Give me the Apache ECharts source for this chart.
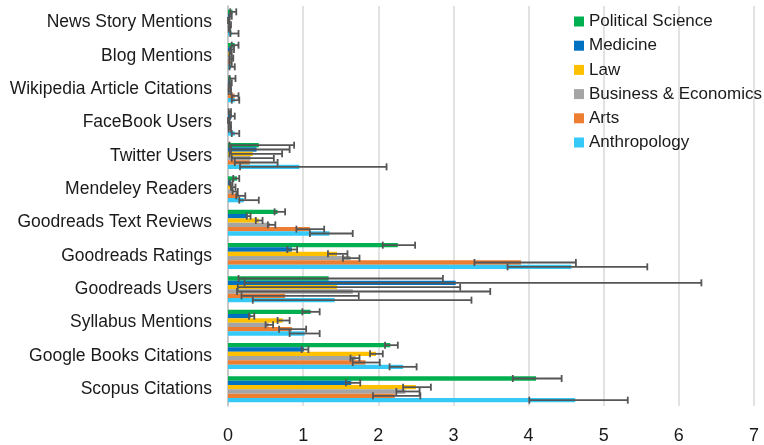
<!DOCTYPE html>
<html><head><meta charset="utf-8">
<script src="https://cdn.jsdelivr.net/npm/echarts@6/dist/echarts.min.js"></script>
<style>html,body{margin:0;padding:0;background:#fff}#c{width:764px;height:445px}</style>
</head><body><div id="c"></div>
<script>
var categories = ['News Story Mentions','Blog Mentions','Wikipedia Article Citations','FaceBook Users','Twitter Users','Mendeley Readers','Goodreads Text Reviews','Goodreads Ratings','Goodreads Users','Syllabus Mentions','Google Books Citations','Scopus Citations'];
var seriesNames = ['Political Science','Medicine','Law','Business & Economics','Arts','Anthropology'];
var xTicks = [0,1,2,3,4,5,6,7];

var polSci     = [0.06,0.09,0.04,0.02,0.41,0.12,0.66,2.26,1.34,1.10,2.16,4.10];
var polSciLow  = [0.03,0.05,0.02,0.01,0.02,0.07,0.62,2.06,0.14,0.99,2.09,3.79];
var polSciHigh = [0.11,0.14,0.10,0.04,0.88,0.15,0.76,2.49,2.86,1.22,2.26,4.44];

var medicine     = [0.03,0.05,0.03,0.05,0.38,0.04,0.26,0.85,3.03,0.30,1.01,1.64];
var medicineLow  = [0.02,0.03,0.02,0.03,0.04,0.02,0.25,0.79,0.22,0.28,0.98,1.57];
var medicineHigh = [0.05,0.08,0.05,0.09,0.82,0.06,0.30,0.92,6.30,0.35,1.07,1.76];

var law     = [0.01,0.03,0.02,0.01,0.33,0.05,0.41,1.45,1.45,0.73,1.97,2.50];
var lawLow  = [0.00,0.02,0.01,0.00,0.02,0.04,0.37,1.33,0.13,0.66,1.89,2.33];
var lawHigh = [0.02,0.05,0.04,0.02,0.72,0.10,0.46,1.59,3.09,0.82,2.06,2.70];

var business     = [0.02,0.04,0.02,0.02,0.30,0.08,0.56,1.63,1.66,0.54,1.70,2.36];
var businessLow  = [0.01,0.02,0.01,0.01,0.05,0.06,0.53,1.53,0.12,0.50,1.63,2.24];
var businessHigh = [0.04,0.07,0.04,0.04,0.61,0.13,0.63,1.75,3.49,0.60,1.75,2.55];

var arts     = [0.02,0.03,0.09,0.02,0.29,0.14,1.09,3.90,0.76,0.85,1.83,2.22];
var artsLow  = [0.01,0.02,0.05,0.01,0.09,0.11,0.91,3.28,0.18,0.68,1.66,1.93];
var artsHigh = [0.03,0.05,0.14,0.04,0.66,0.23,1.28,4.63,1.74,1.04,2.02,2.56];

var anthro     = [0.05,0.04,0.09,0.09,0.95,0.21,1.35,4.57,1.42,1.02,2.33,4.62];
var anthroLow  = [0.03,0.02,0.05,0.05,0.16,0.15,1.09,3.72,0.33,0.82,2.15,4.01];
var anthroHigh = [0.14,0.09,0.15,0.15,2.11,0.41,1.66,5.58,3.24,1.22,2.51,5.32];

var colors = ['#00b050','#0070c0','#ffc000','#a5a5a5','#ed7d31','#35c9f7'];
var values = [polSci, medicine, law, business, arts, anthro];
var lows = [polSciLow, medicineLow, lawLow, businessLow, artsLow, anthroLow];
var highs = [polSciHigh, medicineHigh, lawHigh, businessHigh, artsHigh, anthroHigh];

var GAP = 0.22;
var N = seriesNames.length;
var FONT = '"Liberation Sans", Arial, sans-serif';

var series = [];
seriesNames.forEach(function(name, i){
  series.push({
    name: name, type: 'bar', data: values[i],
    itemStyle: {color: colors[i]},
    barGap: '0%', barCategoryGap: (GAP*100)+'%',
    animation: false, z: 2
  });
});
seriesNames.forEach(function(name, i){
  var d = categories.map(function(c, k){ return [k, lows[i][k], highs[i][k]]; });
  series.push({
    type: 'custom', name: name + ' err', data: d, z: 5, animation: false,
    encode: {y: 0, x: [1,2]},
    renderItem: function(params, api){
      var k = api.value(0);
      var pLo = api.coord([api.value(1), k]);
      var pHi = api.coord([api.value(2), k]);
      var band = api.size([0,1])[1];
      var groupH = band*(1-GAP);
      var bw = groupH/N;
      var y = pLo[1] - groupH/2 + bw*(i+0.5);
      var cap = 3.5;
      var st = {stroke:'#555555', lineWidth:1.8};
      return {type:'group', children:[
        {type:'line', shape:{x1:pLo[0], y1:y, x2:pHi[0], y2:y}, style:st},
        {type:'line', shape:{x1:pLo[0], y1:y-cap, x2:pLo[0], y2:y+cap}, style:st},
        {type:'line', shape:{x1:pHi[0], y1:y-cap, x2:pHi[0], y2:y+cap}, style:st}
      ]};
    }
  });
});

var chart = echarts.init(document.getElementById('c'), null, {renderer:'canvas'});
chart.setOption({
  animation: false,
  backgroundColor: '#fff',
  grid: {left: 228, right: 10, top: 6, bottom: 36, containLabel: false},
  legend: {
    data: seriesNames, orient: 'vertical', left: 574, top: 13,
    itemWidth: 10, itemHeight: 10, itemGap: 7.2, icon: 'rect',
    textStyle: {fontFamily: FONT, fontSize: 17, color: '#1a1a1a', lineHeight: 17, padding:[0,0,0,0]},
    padding: 0, selectedMode: false
  },
  xAxis: {
    type: 'value', min: 0, max: 7, interval: 1,
    axisLine: {show: false}, axisTick: {show: false},
    axisLabel: {fontFamily: FONT, fontSize: 18, color: '#1a1a1a', margin: 21,
      formatter: function(v){ return xTicks.indexOf(v) >= 0 ? String(v) : ''; }},
    splitLine: {show: true, lineStyle: {color: '#d9d9d9', width: 1.5}}
  },
  yAxis: {
    type: 'category', data: categories, inverse: true,
    axisLine: {show: true, lineStyle: {color: '#bfbfbf', width: 1.5}},
    axisTick: {show: false},
    axisLabel: {fontFamily: FONT, fontSize: 17.5, color: '#1a1a1a', margin: 16}
  },
  series: series
});
</script></body></html>
